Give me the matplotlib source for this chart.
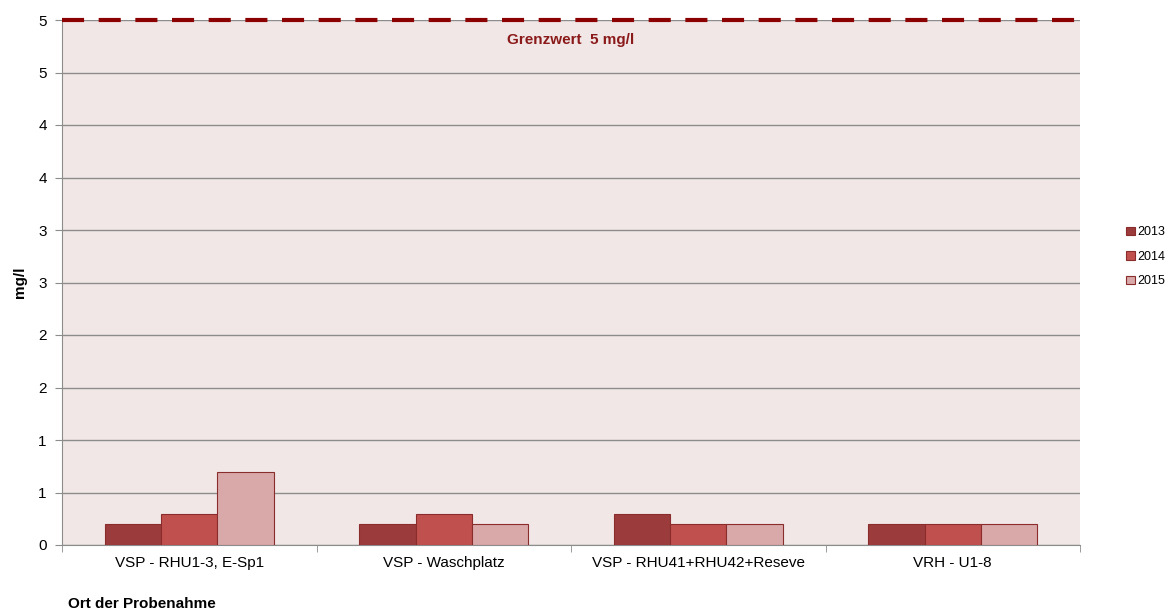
import matplotlib
matplotlib.use("Agg")
import matplotlib.pyplot as plt
import numpy as np

categories = ["VSP - RHU1-3, E-Sp1", "VSP - Waschplatz", "VSP - RHU41+RHU42+Reseve", "VRH - U1-8"]
years = ["2013", "2014", "2015"]
v2013 = [0.2, 0.2, 0.3, 0.2]
v2014 = [0.3, 0.3, 0.2, 0.2]
v2015 = [0.7, 0.2, 0.2, 0.2]
limit = 5.0
ytick_vals = [0, 0.5, 1, 1.5, 2, 2.5, 3, 3.5, 4, 4.5, 5]
ytick_labels = ["0", "1", "1", "2", "2", "3", "3", "4", "4", "5", "5"]

colors = ["#9C3B3B", "#C0504D", "#D9A9A9"]
edge = "#8B2C2C"

plt.rcParams['font.family'] = ['Liberation Sans', 'DejaVu Sans']
fig = plt.figure(figsize=(11.72, 6.10), dpi=100)
ax = fig.add_axes([62/1172, 1 - 545/610, (1080-62)/1172, (545-20)/610])
ax.set_facecolor("#F2E7E7")

x = np.arange(len(categories))
w = 0.222
for i, (vals, c, lab) in enumerate(zip([v2013, v2014, v2015], colors, years)):
    ax.bar(x + (i - 1) * w, vals, w, color=c, edgecolor=edge, linewidth=0.8, label=lab, zorder=3)

ax.set_xlim(-0.5, len(categories) - 0.5)
ax.set_ylim(0, 5.0)
ax.set_yticks(ytick_vals)
ax.set_yticklabels(ytick_labels, fontsize=11)
ax.yaxis.grid(True, color="#8C8C8C", linewidth=1, zorder=1)
ax.set_axisbelow(True)
ax.axhline(limit, color="#8B0000", linestyle=(0, (5.3, 3.5)), linewidth=3, zorder=4, clip_on=False)

ax.set_xticks(x)
ax.set_xticklabels(categories, fontsize=11)
ax.set_xticks(np.arange(-0.5, len(categories), 1), minor=True)
ax.tick_params(axis='x', which='major', length=0, pad=8)
ax.tick_params(axis='x', which='minor', length=5, color="#8C8C8C")
ax.tick_params(axis='y', length=5, color="#8C8C8C", pad=6)

for s in ["top", "right"]:
    ax.spines[s].set_visible(False)
for s in ["left", "bottom"]:
    ax.spines[s].set_color("#8C8C8C")

ax.text(1.5, 4.81, "Grenzwert  5 mg/l", ha='center', va='center', color="#8B1A1A", fontsize=11, fontweight='bold')

ax.set_ylabel("mg/l", fontsize=11, fontweight='bold', labelpad=8)
fig.text(68/1172, 1 - 604/610, "Ort der Probenahme", fontsize=11, fontweight='bold', ha='left', va='center')

ax.legend(loc='center left', bbox_to_anchor=(1.034, 0.549), frameon=False, fontsize=9,
          handlelength=0.7, handleheight=0.7, handletextpad=0.2, labelspacing=1.0)

fig.savefig("out.png", dpi=100)
